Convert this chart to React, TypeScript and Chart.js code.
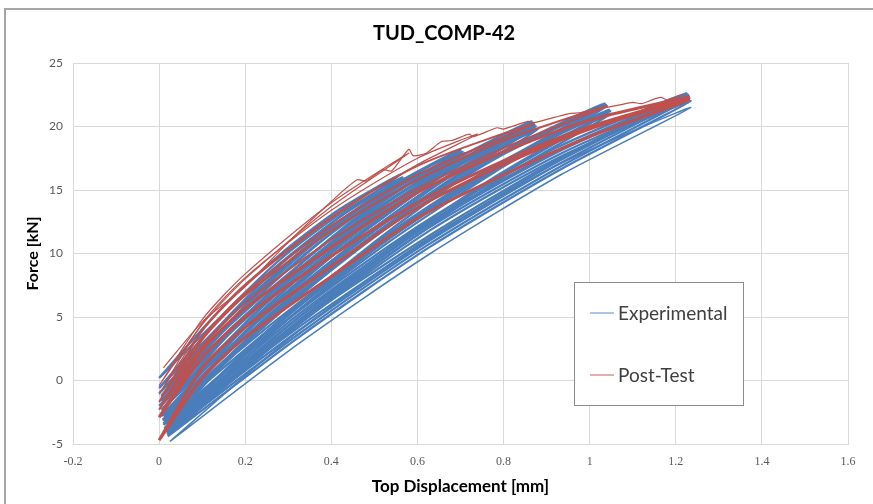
import { useEffect, useRef } from 'react';
import { Chart, registerables } from 'chart.js';

Chart.register(...registerables);

type Pt = [number, number];

const chartTitle = 'TUD_COMP-42';
const xAxisTitle = 'Top Displacement [mm]';
const yAxisTitle = 'Force [kN]';
const xTickLabels = ['-0.2', '0', '0.2', '0.4', '0.6', '0.8', '1', '1.2', '1.4', '1.6'];
const yTickLabels = ['-5', '0', '5', '10', '15', '20', '25'];
const seriesNames = ['Experimental', 'Post-Test'];
const seriesColors = ['#4a7ebb', '#c0504d'];

// Experimental loops (displacement mm, force kN)
const expA1: Pt[] = [[0, 0.2], [0.14, 4.9], [0.28, 9.2], [0.42, 12.9], [0.56, 16.2], [0.42, 13.5], [0.28, 9.9], [0.14, 5.5], [0, 0.2]];
const expA2: Pt[] = [[0, -0.6], [0.141, 4.3], [0.283, 8.7], [0.424, 12.6], [0.565, 16.0], [0.424, 13.2], [0.283, 9.6], [0.141, 4.9], [0, -0.6]];
const expA3: Pt[] = [[0.005, -1.2], [0.146, 3.9], [0.288, 8.4], [0.429, 12.4], [0.57, 15.9], [0.429, 13.1], [0.288, 9.3], [0.146, 4.5], [0.005, -1.2]];
const expA4: Pt[] = [[0.01, -1.8], [0.151, 3.4], [0.293, 8.1], [0.434, 12.2], [0.575, 15.8], [0.434, 12.9], [0.293, 9.0], [0.151, 4.1], [0.01, -1.8]];
const expB1: Pt[] = [[0, -1.0], [0.175, 4.7], [0.35, 9.8], [0.525, 14.3], [0.70, 18.2], [0.525, 15.0], [0.35, 10.8], [0.175, 5.4], [0, -1.0]];
const expB2: Pt[] = [[0.005, -1.6], [0.18, 4.2], [0.355, 9.4], [0.53, 14.0], [0.705, 18.0], [0.53, 14.7], [0.355, 10.4], [0.18, 5.0], [0.005, -1.6]];
const expB3: Pt[] = [[0.01, -2.2], [0.185, 3.8], [0.36, 9.1], [0.535, 13.8], [0.71, 17.9], [0.535, 14.6], [0.36, 10.1], [0.185, 4.5], [0.01, -2.2]];
const expB4: Pt[] = [[0.01, -2.8], [0.186, 3.3], [0.363, 8.7], [0.539, 13.5], [0.715, 17.7], [0.539, 14.3], [0.363, 9.8], [0.186, 4.0], [0.01, -2.8]];
const expB5: Pt[] = [[0.005, -1.3], [0.179, 4.5], [0.353, 9.6], [0.526, 14.2], [0.70, 18.1], [0.526, 14.9], [0.353, 10.6], [0.179, 5.2], [0.005, -1.3]];
const expC1: Pt[] = [[0, -2.0], [0.216, 4.7], [0.433, 10.6], [0.649, 15.9], [0.865, 20.4], [0.649, 16.7], [0.433, 11.7], [0.216, 5.5], [0, -2.0]];
const expC2: Pt[] = [[0.01, -2.6], [0.225, 4.2], [0.44, 10.2], [0.655, 15.6], [0.87, 20.2], [0.655, 16.4], [0.44, 11.4], [0.225, 5.0], [0.01, -2.6]];
const expC3: Pt[] = [[0.01, -3.2], [0.226, 3.7], [0.443, 9.9], [0.659, 15.3], [0.875, 20.0], [0.659, 16.2], [0.443, 11.0], [0.226, 4.6], [0.01, -3.2]];
const expC4: Pt[] = [[0.015, -3.7], [0.231, 3.3], [0.448, 9.5], [0.664, 15.0], [0.88, 19.8], [0.664, 15.9], [0.448, 10.7], [0.231, 4.2], [0.015, -3.7]];
const expC5: Pt[] = [[0.005, -2.3], [0.221, 4.4], [0.437, 10.4], [0.652, 15.7], [0.868, 20.3], [0.652, 16.5], [0.437, 11.5], [0.221, 5.2], [0.005, -2.3]];
const expC6: Pt[] = [[0.012, -2.9], [0.227, 3.9], [0.442, 10.0], [0.657, 15.4], [0.872, 20.1], [0.657, 16.3], [0.442, 11.2], [0.227, 4.8], [0.012, -2.9]];
const expD1: Pt[] = [[0.005, -2.8], [0.263, 4.5], [0.52, 11.0], [0.778, 16.8], [1.035, 21.8], [0.778, 17.7], [0.52, 12.3], [0.263, 5.4], [0.005, -2.8]];
const expD2: Pt[] = [[0.01, -3.4], [0.268, 4.0], [0.525, 10.7], [0.783, 16.5], [1.04, 21.6], [0.783, 17.5], [0.525, 11.9], [0.268, 5.0], [0.01, -3.4]];
const expD3: Pt[] = [[0.015, -3.9], [0.273, 3.6], [0.53, 10.3], [0.788, 16.2], [1.045, 21.3], [0.788, 17.1], [0.53, 11.5], [0.273, 4.5], [0.015, -3.9]];
const expD4: Pt[] = [[0.02, -4.3], [0.278, 3.2], [0.535, 9.9], [0.793, 15.9], [1.05, 21.0], [0.793, 16.8], [0.535, 11.2], [0.278, 4.2], [0.02, -4.3]];
const expD5: Pt[] = [[0.008, -3.1], [0.266, 4.3], [0.523, 10.9], [0.781, 16.7], [1.038, 21.7], [0.781, 17.6], [0.523, 12.1], [0.266, 5.2], [0.008, -3.1]];
const expD6: Pt[] = [[0.018, -4.1], [0.276, 3.4], [0.533, 10.1], [0.791, 16.1], [1.048, 21.2], [0.791, 17.0], [0.533, 11.4], [0.276, 4.4], [0.018, -4.1]];
const expE1: Pt[] = [[0.01, -3.5], [0.314, 4.3], [0.618, 11.2], [0.921, 17.3], [1.225, 22.6], [0.921, 18.3], [0.618, 12.5], [0.314, 5.2], [0.01, -3.5]];
const expE2: Pt[] = [[0.015, -4.0], [0.319, 3.8], [0.623, 10.9], [0.926, 17.0], [1.23, 22.4], [0.926, 18.0], [0.623, 12.2], [0.319, 4.8], [0.015, -4.0]];
const expE3: Pt[] = [[0.02, -4.4], [0.324, 3.4], [0.628, 10.5], [0.931, 16.6], [1.235, 22.0], [0.931, 17.6], [0.628, 11.8], [0.324, 4.4], [0.02, -4.4]];
const expE4: Pt[] = [[0.025, -4.8], [0.328, 3.0], [0.63, 10.0], [0.933, 16.2], [1.235, 21.5], [0.933, 17.1], [0.63, 11.3], [0.328, 4.0], [0.025, -4.8]];
const expE5: Pt[] = [[0.012, -3.75], [0.316, 4.0], [0.62, 11.0], [0.924, 17.2], [1.228, 22.5], [0.924, 18.1], [0.62, 12.3], [0.316, 5.0], [0.012, -3.75]];
const expE6: Pt[] = [[0.018, -4.2], [0.322, 3.6], [0.625, 10.7], [0.929, 16.8], [1.232, 22.2], [0.929, 17.8], [0.625, 12.0], [0.322, 4.6], [0.018, -4.2]];

// Post-test loops
const postTop: Pt[] = [[0.01, 1.0], [0.1, 4.6], [0.2, 7.4], [0.3, 10.9], [0.4, 14.1], [0.46, 15.8], [0.48, 15.7], [0.52, 16.6], [0.54, 16.5], [0.58, 18.2], [0.59, 17.7], [0.62, 17.9], [0.655, 18.8], [0.68, 18.9], [0.72, 19.4], [0.73, 19.2], [0.785, 19.9], [0.8, 19.8], [0.857, 20.4], [0.87, 20.3], [0.95, 21.0], [0.98, 21.1], [1.04, 21.5], [1.07, 21.7], [1.1, 21.9], [1.12, 21.8], [1.145, 22.1], [1.165, 22.3], [1.18, 22.1], [1.215, 22.5], [1.23, 22.2]];
const postS1: Pt[] = [[0, -0.4], [0.1, 4.4], [0.2, 8.0], [0.4, 13.7], [0.58, 17.9], [0.4, 14.0], [0.2, 8.4], [0.1, 4.8], [0, -0.4]];
const postS2: Pt[] = [[0, -1.1], [0.1, 4.0], [0.2, 7.6], [0.4, 12.9], [0.6, 17.0], [0.74, 19.4], [0.6, 17.5], [0.4, 13.4], [0.2, 8.1], [0.1, 4.5], [0, -1.1]];
const postM1: Pt[] = [[0, -1.7], [0.1, 3.4], [0.2, 6.9], [0.4, 12.2], [0.6, 16.2], [0.87, 20.2], [0.6, 16.9], [0.4, 12.8], [0.2, 7.5], [0.1, 3.9], [0, -1.7]];
const postM2: Pt[] = [[0, -2.3], [0.1, 2.7], [0.2, 6.1], [0.4, 11.1], [0.6, 15.1], [0.8, 18.3], [1.04, 21.6], [0.8, 18.9], [0.6, 15.8], [0.4, 11.8], [0.2, 6.7], [0.1, 3.2], [0, -2.3]];
const postT1: Pt[] = [[0, -2.9], [0.1, 1.8], [0.2, 5.0], [0.4, 9.8], [0.6, 14.0], [0.8, 17.3], [1.0, 20.0], [1.23, 22.3], [1.0, 20.5], [0.8, 18.0], [0.6, 14.8], [0.4, 10.5], [0.2, 5.7], [0.1, 2.4], [0, -2.9]];
const postT2: Pt[] = [[0, -4.7], [0.1, 0.2], [0.2, 3.4], [0.4, 8.2], [0.6, 12.8], [0.8, 16.2], [1.0, 19.2], [1.23, 22.1], [1.0, 19.8], [0.8, 17.0], [0.6, 13.6], [0.4, 9.0], [0.2, 4.2], [0.1, 1.0], [0, -4.7]];

const expLoops: Pt[][] = [expA1, expA2, expA3, expA4, expB1, expB5, expB2, expB3, expB4, expC1, expC5, expC2, expC6, expC3, expC4, expD1, expD5, expD2, expD3, expD6, expD4, expE1, expE5, expE2, expE6, expE3];
const expLowest: Pt[][] = [expE4];
const postThin: Pt[][] = [postTop, postS1, postS2];
const postMedium: Pt[][] = [postM1, postM2];
const postThick: Pt[][] = [postT1, postT2];

const FONT = 'Lato, "Open Sans", sans-serif';

const overlayPlugin = {
  id: 'overlayTitleLegend',
  afterDraw(chart: any) {
    const { ctx, chartArea } = chart;
    ctx.save();
    ctx.fillStyle = '#000000';
    ctx.font = `bold 20px ${FONT}`;
    ctx.textAlign = 'center';
    ctx.textBaseline = 'middle';
    ctx.fillText(chartTitle, 444, 34);
    const bx = chartArea.left + 501;
    const by = chartArea.top + 219;
    const bw = 169;
    const bh = 123;
    ctx.fillStyle = '#ffffff';
    ctx.fillRect(bx, by, bw, bh);
    ctx.strokeStyle = '#8c8c8c';
    ctx.lineWidth = 1;
    ctx.strokeRect(bx + 0.5, by + 0.5, bw, bh);
    ctx.font = `19px ${FONT}`;
    ctx.textAlign = 'left';
    const rows = [by + 31, by + 93];
    seriesNames.forEach((name, i) => {
      const yy = rows[i];
      ctx.strokeStyle = seriesColors[i];
      ctx.globalAlpha = 0.7;
      ctx.lineWidth = 1.3;
      ctx.beginPath();
      ctx.moveTo(bx + 16, yy);
      ctx.lineTo(bx + 40, yy);
      ctx.stroke();
      ctx.globalAlpha = 1;
      ctx.fillStyle = '#404040';
      ctx.fillText(name, bx + 44, yy + 1);
    });
    ctx.restore();
  },
};

export default function App() {
  const ref = useRef<HTMLCanvasElement | null>(null);
  useEffect(() => {
    if (!ref.current) return;
    const mk = (pts: Pt[], color: string, width: number, order: number) => ({
      data: pts.map(([x, y]) => ({ x, y })),
      borderColor: color,
      backgroundColor: color,
      borderWidth: width,
      pointRadius: 0,
      showLine: true,
      fill: false,
      tension: 0.25,
      order,
    });
    const datasets = [
      ...postThick.map((p) => mk(p, seriesColors[1], 3, 0)),
      ...postMedium.map((p) => mk(p, seriesColors[1], 2, 0)),
      ...postThin.map((p) => mk(p, seriesColors[1], 1.2, 0)),
      ...expLoops.map((p) => mk(p, seriesColors[0], 2.3, 1)),
      ...expLowest.map((p) => mk(p, seriesColors[0], 1.5, 1)),
    ];
    const chart = new Chart(ref.current, {
      type: 'scatter',
      data: { datasets } as any,
      plugins: [overlayPlugin],
      options: {
        responsive: false,
        animation: false,
        layout: { padding: { left: 18, right: 25, top: 63, bottom: 4 } },
        plugins: {
          legend: { display: false },
          tooltip: { enabled: false },
          title: { display: false },
        },
        scales: {
          x: {
            type: 'linear',
            min: -0.2,
            max: 1.6,
            afterFit: (s: any) => { s.height = 56; },
            ticks: {
              stepSize: 0.2,
              padding: 11,
              color: '#595959',
              font: { family: '"Liberation Serif", serif', size: 12 },
              callback: (v: any) => xTickLabels[Math.round((Number(v) + 0.2) / 0.2)] ?? '',
            },
            grid: { color: '#d9d9d9', lineWidth: 1, drawTicks: false },
            border: { color: '#d9d9d9' },
            title: {
              display: true,
              text: xAxisTitle,
              color: '#000000',
              font: { family: FONT, size: 17, weight: 'bold' },
              padding: { top: 0, bottom: 3 },
            },
          },
          y: {
            type: 'linear',
            min: -5,
            max: 25,
            afterFit: (s: any) => { s.width = 55; },
            ticks: {
              stepSize: 5,
              padding: 10,
              color: '#595959',
              font: { family: FONT, size: 12 },
              callback: (v: any) => yTickLabels[Math.round((Number(v) + 5) / 5)] ?? '',
            },
            grid: { color: '#d9d9d9', lineWidth: 1, drawTicks: false },
            border: { color: '#d9d9d9' },
            title: {
              display: true,
              text: yAxisTitle,
              color: '#000000',
              font: { family: FONT, size: 16, weight: 'bold' },
              padding: { top: 5, bottom: 0 },
            },
          },
        },
      } as any,
    });
    return () => chart.destroy();
  }, []);
  return (
    <div style={{ position: 'fixed', left: 0, top: 0, width: 873, height: 504, overflow: 'hidden', background: '#ffffff' }}>
      <div style={{ position: 'absolute', left: 4, top: 8, width: 900, height: 520, border: '2px solid #a6a6a6', boxSizing: 'border-box' }} />
      <canvas ref={ref} width={873} height={504} style={{ position: 'absolute', left: 0, top: 0, width: 873, height: 504 }} />
    </div>
  );
}
